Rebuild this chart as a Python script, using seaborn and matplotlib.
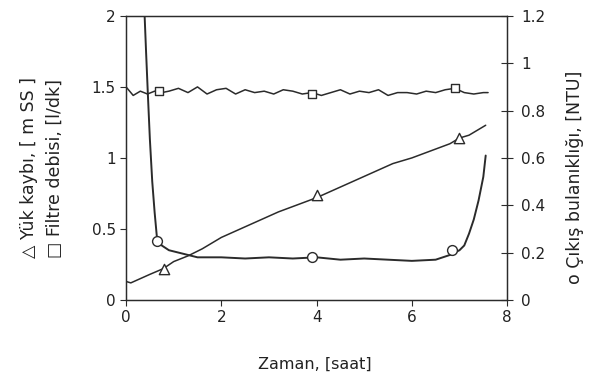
import numpy as np
import pandas as pd
import matplotlib
matplotlib.use("Agg")
import matplotlib.pyplot as plt
import seaborn as sns

# Filtre debisi [l/dk] (sol eksen)
debi_x = [0, 0.15, 0.3, 0.45, 0.6, 0.75, 0.9, 1.1, 1.3, 1.5, 1.7, 1.9, 2.1, 2.3, 2.5, 2.7,
          2.9, 3.1, 3.3, 3.5, 3.7, 3.9, 4.1, 4.3, 4.5, 4.7, 4.9, 5.1, 5.3, 5.5, 5.7, 5.9,
          6.1, 6.3, 6.5, 6.7, 6.9, 7.1, 7.3, 7.5, 7.6]
debi_y = [1.50, 1.44, 1.47, 1.45, 1.47, 1.46, 1.47, 1.49, 1.46, 1.50, 1.45, 1.48, 1.49, 1.45,
          1.48, 1.46, 1.47, 1.45, 1.48, 1.47, 1.45, 1.46, 1.44, 1.46, 1.48, 1.45, 1.47, 1.46,
          1.48, 1.44, 1.46, 1.46, 1.45, 1.47, 1.46, 1.48, 1.49, 1.46, 1.45, 1.46, 1.46]
debi_mx = [0.7, 3.9, 6.9]
debi_my = [1.47, 1.45, 1.49]

# Yük kaybı [m SS] (sol eksen)
yuk_x = [0, 0.1, 0.3, 0.5, 0.78, 1.0, 1.3, 1.6, 2.0, 2.4, 2.8, 3.2, 3.6, 4.0, 4.4, 4.8,
         5.2, 5.6, 6.0, 6.4, 6.8, 7.0, 7.2, 7.4, 7.55]
yuk_y = [0.13, 0.12, 0.15, 0.18, 0.22, 0.27, 0.31, 0.36, 0.44, 0.50, 0.56, 0.62, 0.67, 0.72,
         0.78, 0.84, 0.90, 0.96, 1.00, 1.05, 1.10, 1.14, 1.16, 1.20, 1.23]
yuk_mx = [0.8, 4.0, 7.0]
yuk_my = [0.22, 0.74, 1.14]

# Çıkış bulanıklığı [NTU] (sağ eksen)
bul_x = [0.38, 0.42, 0.46, 0.50, 0.55, 0.60, 0.65, 0.75, 0.9, 1.1, 1.3, 1.5, 2.0, 2.5, 3.0,
         3.5, 4.0, 4.5, 5.0, 5.5, 6.0, 6.5, 6.8, 7.0, 7.1, 7.2, 7.3, 7.4, 7.5, 7.55]
bul_y = [1.25, 1.05, 0.86, 0.68, 0.50, 0.37, 0.26, 0.23, 0.21, 0.20, 0.19, 0.18, 0.18, 0.175,
         0.18, 0.175, 0.18, 0.17, 0.175, 0.17, 0.165, 0.17, 0.19, 0.21, 0.23, 0.28, 0.34, 0.42,
         0.52, 0.61]
bul_mx = [0.65, 3.9, 6.85]
bul_my = [0.25, 0.18, 0.21]

sns.set_style("ticks")
plt.rcParams['font.family'] = ['DejaVu Sans']
renk = '#2b2b2b'

fig = plt.figure(figsize=(5.89, 3.88), dpi=100)
ax = fig.add_axes([0.214, 0.227, 0.647, 0.732])
ax2 = ax.twinx()

sns.lineplot(x=debi_x, y=debi_y, ax=ax, color=renk, lw=1.1, sort=False)
sns.lineplot(x=yuk_x, y=yuk_y, ax=ax, color=renk, lw=1.1, sort=False)
sns.lineplot(x=bul_x, y=bul_y, ax=ax2, color=renk, lw=1.4, sort=False)

sns.scatterplot(x=debi_mx, y=debi_my, ax=ax, marker='s', s=40, facecolor='white',
                edgecolor=renk, linewidth=1.0, zorder=5)
sns.scatterplot(x=yuk_mx, y=yuk_my, ax=ax, marker='^', s=55, facecolor='white',
                edgecolor=renk, linewidth=1.0, zorder=5)
sns.scatterplot(x=bul_mx, y=bul_my, ax=ax2, marker='o', s=50, facecolor='white',
                edgecolor=renk, linewidth=1.0, zorder=5)

ax.set_xlim(0, 8)
ax.set_ylim(0, 2)
ax2.set_ylim(0, 1.2)
ax.set_xticks([0, 2, 4, 6, 8])
ax.set_yticks([0, 0.5, 1, 1.5, 2])
ax.set_yticklabels(['0', '0.5', '1', '1.5', '2'])
ax2.set_yticks([0, 0.2, 0.4, 0.6, 0.8, 1, 1.2])
ax2.set_yticklabels(['0', '0.2', '0.4', '0.6', '0.8', '1', '1.2'])

for a in (ax, ax2):
    for s in a.spines.values():
        s.set_color(renk)
        s.set_linewidth(0.9)
ax.tick_params(axis='both', direction='out', length=4, width=0.8, colors=renk,
               labelsize=11, labelcolor='#222222')
ax2.tick_params(axis='y', direction='inout', length=8, width=0.8, colors=renk,
                labelsize=11, labelcolor='#222222', pad=6)
ax.set_xlabel('')
ax.set_ylabel('')
ax2.set_ylabel('')

fig.text(0.535, 0.06, 'Zaman, [saat]', ha='center', va='center', fontsize=11.5, color='#222222')
fig.text(0.049, 0.335, '\u25b3 Yük kaybı, [ m SS ]', rotation=90, ha='center', va='bottom',
         fontsize=12.5, color='#222222')
fig.text(0.093, 0.335, '\u25a1 Filtre debisi, [l/dk]', rotation=90, ha='center', va='bottom',
         fontsize=12.5, color='#222222')
fig.text(0.976, 0.268, 'o Çıkış bulanıklığı, [NTU]', rotation=90, ha='center', va='bottom',
         fontsize=12.5, color='#222222')

fig.savefig('out.png', dpi=100)
